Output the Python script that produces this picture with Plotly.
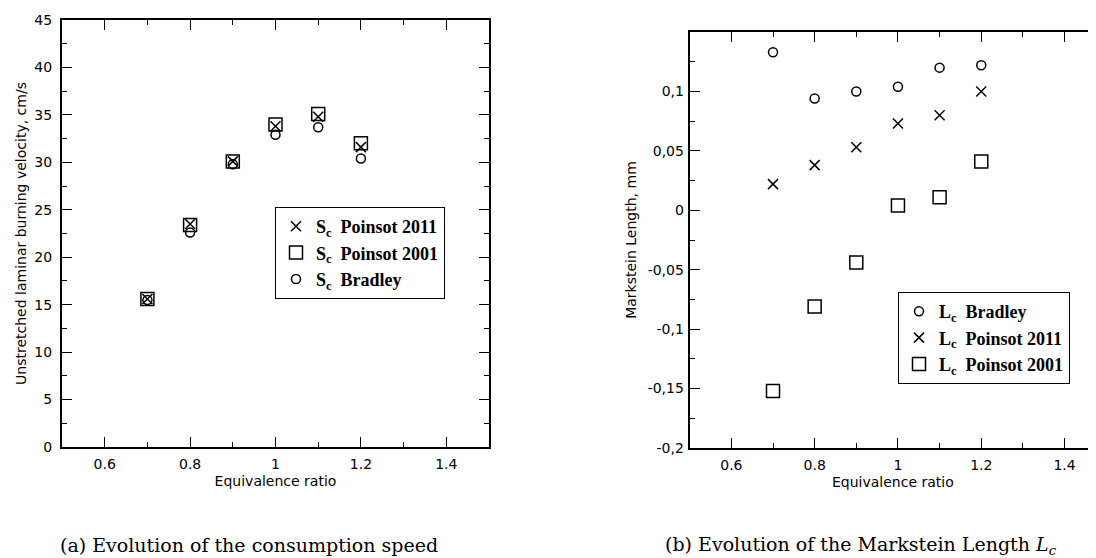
import plotly.graph_objects as go

# equivalence ratio
phi = [0.7, 0.8, 0.9, 1.0, 1.1, 1.2]

# (a) consumption speed, cm/s
sc_poinsot_2011 = [15.6, 23.5, 30.1, 33.8, 34.8, 31.6]
sc_poinsot_2001 = [15.6, 23.4, 30.1, 34.0, 35.1, 32.0]
sc_bradley = [15.5, 22.6, 29.8, 32.9, 33.7, 30.4]

# (b) Markstein length, mm
lc_bradley = [0.133, 0.094, 0.100, 0.104, 0.120, 0.122]
lc_poinsot_2011 = [0.022, 0.038, 0.053, 0.073, 0.080, 0.100]
lc_poinsot_2001 = [-0.152, -0.081, -0.044, 0.004, 0.011, 0.041]

phi_ticks = [0.6, 0.8, 1.0, 1.2, 1.4]
phi_labels = ["0.6", "0.8", "1", "1.2", "1.4"]
sc_ticks = [0, 5, 10, 15, 20, 25, 30, 35, 40, 45]
lc_ticks = [-0.2, -0.15, -0.1, -0.05, 0, 0.05, 0.1]
lc_labels = ["-0,2", "-0,15", "-0,1", "-0,05", "0", "0,05", "0,1"]

# page is 1096x558, the plot div sits 8px in from the body margin
PAGE_W, PAGE_H, OFF = 1096, 558, 8
W, H = PAGE_W - OFF, PAGE_H - OFF
SANS = "DejaVu Sans"
SERIF = "Liberation Serif"

MARKERS = {
    "x": dict(symbol="x-thin-open", size=10, color="black", line=dict(color="black", width=1.5)),
    "square": dict(symbol="square-open", size=13, color="black", line=dict(color="black", width=1.5)),
    "circle": dict(symbol="circle-open", size=9, color="black", line=dict(color="black", width=1.5)),
}


def px_x(p):
    # page pixel -> paper fraction
    return (p - OFF) / W


def px_y(p):
    return 1 - (p - OFF) / H


def axis_style(**kw):
    d = dict(showline=True, linecolor="black", linewidth=2, mirror="ticks",
             ticks="inside", ticklen=10, tickwidth=1, tickcolor="black",
             showgrid=False, zeroline=False, automargin=False,
             tickfont=dict(family=SANS, size=14, color="black"),
             title_font=dict(family=SANS, size=14, color="black"))
    d.update(kw)
    return d


def make_figure():
    fig = go.Figure()

    # left panel, legend order: 2011, 2001, Bradley
    left = [("x", sc_poinsot_2011, "Poinsot 2011"),
            ("square", sc_poinsot_2001, "Poinsot 2001"),
            ("circle", sc_bradley, "Bradley")]
    for sym, ys, name in left:
        fig.add_trace(go.Scatter(x=phi, y=ys, mode="markers", marker=MARKERS[sym],
                                 name="<b>S<sub>c</sub>  " + name + "</b>",
                                 xaxis="x", yaxis="y", legend="legend"))

    right = [("circle", lc_bradley, "Bradley"),
             ("x", lc_poinsot_2011, "Poinsot 2011"),
             ("square", lc_poinsot_2001, "Poinsot 2001")]
    for sym, ys, name in right:
        fig.add_trace(go.Scatter(x=phi, y=ys, mode="markers", marker=MARKERS[sym],
                                 name="<b>L<sub>c</sub>  " + name + "</b>",
                                 xaxis="x2", yaxis="y2", legend="legend2"))

    fig.update_layout(
        width=W, height=H,
        margin=dict(l=0, r=0, t=0, b=0, autoexpand=False),
        paper_bgcolor="white", plot_bgcolor="white",
        showlegend=True,
        xaxis=axis_style(domain=[px_x(62), px_x(489)], range=[0.5, 1.5], anchor="y",
                         tickvals=phi_ticks, ticktext=phi_labels, ticklabelstandoff=3,
                         minor=dict(dtick=0.1, tick0=0.5, ticks="inside", ticklen=5, tickcolor="black"),
                         title=dict(text="Equivalence ratio", standoff=5)),
        yaxis=axis_style(domain=[px_y(447), px_y(20)], range=[0, 45], anchor="x",
                         tickvals=sc_ticks, ticklabelstandoff=5,
                         minor=dict(dtick=2.5, tick0=0, ticks="inside", ticklen=5, tickcolor="black"),
                         title=dict(text="Unstretched laminar burning velocity, cm/s", standoff=4)),
        # right frame falls just past the page edge, so the range is cut at the edge
        xaxis2=axis_style(domain=[px_x(689.7), 1.0], range=[0.5, 0.5 + (PAGE_W - 689.7) / 416.5],
                          anchor="y2", tickvals=phi_ticks, ticktext=phi_labels, ticklabelstandoff=3,
                          minor=dict(dtick=0.1, tick0=0.5, ticks="inside", ticklen=5, tickcolor="black"),
                          title=dict(text="Equivalence ratio", standoff=5)),
        yaxis2=axis_style(domain=[px_y(448), px_y(32)], range=[-0.2, 0.15], anchor="x2", mirror=False,
                          tickvals=lc_ticks, ticktext=lc_labels, ticklabelstandoff=1,
                          minor=dict(dtick=0.025, tick0=0, ticks="inside", ticklen=5, tickcolor="black"),
                          title=dict(text="Markstein Length, mm", standoff=8)),
        legend=dict(x=px_x(275), y=px_y(207), xanchor="left", yanchor="top",
                    bgcolor="white", bordercolor="black", borderwidth=1,
                    font=dict(family=SERIF, size=18, color="black")),
        legend2=dict(x=px_x(898), y=px_y(292), xanchor="left", yanchor="top",
                     bgcolor="white", bordercolor="black", borderwidth=1,
                     font=dict(family=SERIF, size=18, color="black")),
    )

    captions = [("(a) Evolution of the consumption speed", 249),
                ("(b) Evolution of the Markstein Length <i>L<sub>c</sub></i>", 861)]
    for text, cx in captions:
        fig.add_annotation(text=text, x=px_x(cx), y=px_y(545), xref="paper", yref="paper",
                           showarrow=False, xanchor="center", yanchor="middle",
                           font=dict(family="DejaVu Serif", size=19, color="black"))
    return fig


if __name__ == "__main__":
    fig = make_figure()
    fig.write_html("out.html")
